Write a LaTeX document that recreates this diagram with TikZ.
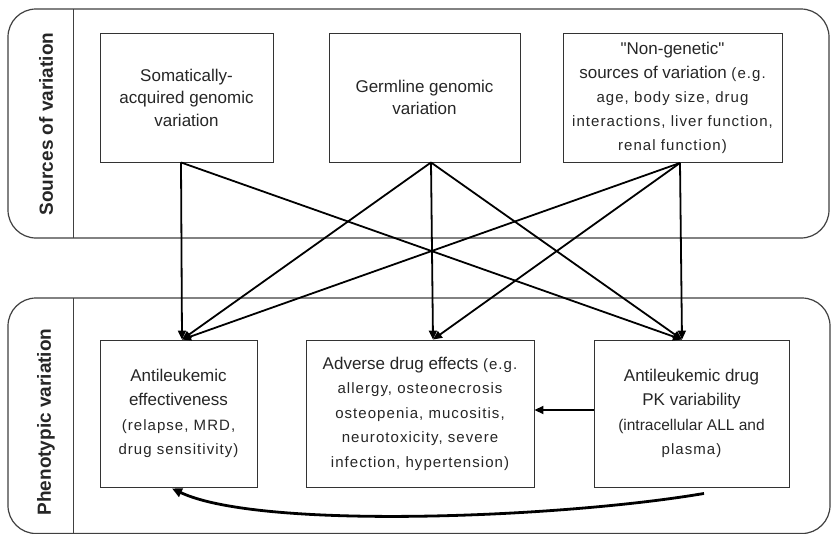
\documentclass[tikz,border=0pt]{standalone}
\usepackage{fontspec}
\setmainfont{Liberation Sans}
\newfontfamily\spacedfont[LetterSpace=7]{Liberation Sans}
\newfontfamily\quotefont[Ligatures=ResetAll]{Liberation Sans}
\usetikzlibrary{arrows.meta,calc}
\newcommand\smtxt{\fontsize{15}{24}\spacedfont}
\newcommand\smtxtb{\fontsize{15}{24.5}\spacedfont}
\newcommand\sq{{\quotefont\symbol{34}}}
\begin{document}
\begin{tikzpicture}[x=1pt,y=-1pt,
  panel/.style={draw=black!75, line width=1.2pt, rounded corners=28pt},
  divider/.style={draw=black!75, line width=1pt},
  sidelabel/.style={font=\fontsize{19}{22}\selectfont\bfseries, text=black!85, rotate=90, inner sep=0pt},
  srcbox/.style={draw=black!80, line width=0.9pt, align=center, inner sep=0pt, text=black!85,
    minimum height=129pt, font=\fontsize{17}{22.5}\selectfont},
  phenbox/.style={draw=black!80, line width=0.9pt, align=center, inner sep=0pt, text=black!85,
    minimum height=147pt, font=\fontsize{17}{24.5}\selectfont},
  arr/.style={line width=1.8pt, -{Triangle[length=9pt,width=8pt]}},
  bigarr/.style={line width=2.8pt, -{Triangle[length=10pt,width=9pt]}}
]
\useasboundingbox (0,0) rectangle (832,533);
\fill[white] (0,0) rectangle (832,533);

% panels
\draw[panel] (8,9) rectangle (829,238);
\draw[divider] (73,9) -- (73,238);
\draw[panel] (8,298) rectangle (830,533.5);
\draw[divider] (73,298) -- (73,533);

\node[sidelabel] (lab1) at (46,124) {Sources of variation};
\node[sidelabel] (lab2) at (46,422) {Phenotypic variation};

% source boxes
\node[srcbox, minimum width=173pt] (b1) at (186.5,97.5)
  {Somatically-\\acquired genomic\\variation};
\node[srcbox, minimum width=191pt] (b2) at (424.5,97.5)
  {Germline genomic\\variation};
\node[srcbox, minimum width=219pt, font=\fontsize{17}{24}\selectfont] (b3) at (672.5,98)
  {\sq Non-genetic\sq\\sources of variation {\smtxt (e.g.}\\{\smtxt age, body size, drug}\\{\smtxt interactions, liver function,}\\{\smtxt renal function)}};

% phenotype boxes
\node[phenbox, minimum width=157pt] (a) at (178.5,413.5)
  {Antileukemic\\effectiveness\\{\smtxtb (relapse, MRD,}\\{\smtxtb drug sensitivity)}};
\node[phenbox, minimum width=228pt] (b) at (420,413.5)
  {Adverse drug effects {\smtxtb (e.g.}\\{\smtxtb allergy, osteonecrosis}\\{\smtxtb osteopenia, mucositis,}\\{\smtxtb neurotoxicity, severe}\\{\smtxtb infection, hypertension)}};
\node[phenbox, minimum width=195pt] (c) at (691.5,413.5)
  {Antileukemic drug\\PK variability\\{\fontsize{15.5}{24.5}\selectfont (intracellular ALL and}\\{\smtxtb plasma)}};

% anchor points
\coordinate (s1) at ($(b1.south)+(-5.5,0)$);
\coordinate (s2) at ($(b2.south)+(6.5,0)$);
\coordinate (s3) at ($(b3.south)+(7.5,0)$);
\coordinate (t1) at ($(a.north)+(3.5,0)$);
\coordinate (t2) at ($(b.north)+(13,0)$);
\coordinate (t3) at ($(c.north)+(-9.5,0)$);

\draw[arr] (s1) -- (t1);
\draw[arr] (s1) -- (t3);
\draw[arr] (s2) -- (t1);
\draw[arr] (s2) -- (t2);
\draw[arr] (s2) -- (t3);
\draw[arr] (s3) -- (t1);
\draw[arr] (s3) -- (t2);
\draw[arr] (s3) -- (t3);

\draw[arr] ($(c.west)+(0,-3.5)$) -- ($(b.east)+(0,-3.5)$);

\coordinate (cstart) at ($(c.south)+(12.5,6)$);
\coordinate (aend) at ($(a.south)+(-6.5,1)$);
\draw[bigarr] (cstart) .. controls (560,518) and (260,530) .. (aend);
\end{tikzpicture}
\end{document}
